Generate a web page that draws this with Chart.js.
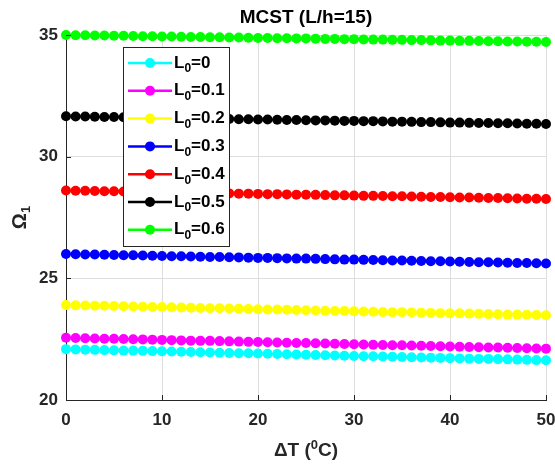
<!DOCTYPE html>
<html>
<head>
<meta charset="utf-8">
<script src="https://cdn.jsdelivr.net/npm/chart.js@4.4.0/dist/chart.umd.min.js"></script>
<style>
  html, body { margin: 0; padding: 0; background: #fff; }
  #wrap { width: 555px; height: 466px; }
</style>
</head>
<body>
<div id="wrap"><canvas id="freqChart" width="555" height="466"></canvas></div>
<script>
// temperature rise (degrees C)
const deltaT = [0, 1, 2, 3, 4, 5, 6, 7, 8, 9, 10, 11, 12, 13, 14, 15, 16, 17, 18, 19, 20,
    21, 22, 23, 24, 25, 26, 27, 28, 29, 30, 31, 32, 33, 34, 35, 36, 37, 38, 39, 40,
    41, 42, 43, 44, 45, 46, 47, 48, 49, 50];

const seriesNames = ['0', '0.1', '0.2', '0.3', '0.4', '0.5', '0.6'];

// Omega_1 for each L0
const omegaL00 = [22.09, 22.08, 22.07, 22.06, 22.05, 22.04, 22.03, 22.03, 22.02, 22.01, 22.00,
    21.99, 21.98, 21.97, 21.96, 21.95, 21.94, 21.93, 21.92, 21.92, 21.91, 21.90, 21.89, 21.88,
    21.87, 21.86, 21.85, 21.84, 21.83, 21.82, 21.81, 21.80, 21.80, 21.79, 21.78, 21.77, 21.76,
    21.75, 21.74, 21.73, 21.72, 21.71, 21.70, 21.69, 21.69, 21.68, 21.67, 21.66, 21.65, 21.64, 21.63];
const omegaL01 = [22.56, 22.55, 22.54, 22.53, 22.52, 22.52, 22.51, 22.50, 22.49, 22.48, 22.47,
    22.46, 22.45, 22.44, 22.43, 22.43, 22.42, 22.41, 22.40, 22.39, 22.38, 22.37, 22.36, 22.35,
    22.34, 22.34, 22.33, 22.32, 22.31, 22.30, 22.29, 22.28, 22.27, 22.26, 22.25, 22.25, 22.24,
    22.23, 22.22, 22.21, 22.20, 22.19, 22.18, 22.17, 22.16, 22.16, 22.15, 22.14, 22.13, 22.12, 22.11];
const omegaL02 = [23.90, 23.89, 23.88, 23.87, 23.87, 23.86, 23.85, 23.84, 23.83, 23.82, 23.82,
    23.81, 23.80, 23.79, 23.78, 23.77, 23.77, 23.76, 23.75, 23.74, 23.73, 23.72, 23.72, 23.71,
    23.70, 23.69, 23.68, 23.67, 23.66, 23.66, 23.65, 23.64, 23.63, 23.62, 23.61, 23.61, 23.60,
    23.59, 23.58, 23.57, 23.56, 23.56, 23.55, 23.54, 23.53, 23.52, 23.51, 23.51, 23.50, 23.49, 23.48];
const omegaL03 = [26.00, 25.99, 25.98, 25.98, 25.97, 25.96, 25.95, 25.95, 25.94, 25.93, 25.92,
    25.91, 25.91, 25.90, 25.89, 25.88, 25.88, 25.87, 25.86, 25.85, 25.84, 25.84, 25.83, 25.82,
    25.81, 25.81, 25.80, 25.79, 25.78, 25.77, 25.77, 25.76, 25.75, 25.74, 25.73, 25.73, 25.72,
    25.71, 25.70, 25.70, 25.69, 25.68, 25.67, 25.66, 25.66, 25.65, 25.64, 25.63, 25.63, 25.62, 25.61];
const omegaL04 = [28.61, 28.60, 28.60, 28.59, 28.58, 28.58, 28.57, 28.56, 28.55, 28.55, 28.54,
    28.53, 28.53, 28.52, 28.51, 28.51, 28.50, 28.49, 28.48, 28.48, 28.47, 28.46, 28.46, 28.45,
    28.44, 28.44, 28.43, 28.42, 28.41, 28.41, 28.40, 28.39, 28.39, 28.38, 28.37, 28.37, 28.36,
    28.35, 28.34, 28.34, 28.33, 28.32, 28.32, 28.31, 28.30, 28.30, 28.29, 28.28, 28.27, 28.27, 28.26];
const omegaL05 = [31.66, 31.65, 31.65, 31.64, 31.63, 31.63, 31.62, 31.62, 31.61, 31.60, 31.60,
    31.59, 31.58, 31.58, 31.57, 31.56, 31.56, 31.55, 31.54, 31.54, 31.53, 31.53, 31.52, 31.51,
    31.51, 31.50, 31.49, 31.49, 31.48, 31.47, 31.47, 31.46, 31.46, 31.45, 31.44, 31.44, 31.43,
    31.42, 31.42, 31.41, 31.40, 31.40, 31.39, 31.38, 31.38, 31.37, 31.37, 31.36, 31.35, 31.35, 31.34];
const omegaL06 = [35.00, 34.99, 34.99, 34.98, 34.98, 34.97, 34.97, 34.96, 34.95, 34.95, 34.94,
    34.94, 34.93, 34.92, 34.92, 34.91, 34.91, 34.90, 34.90, 34.89, 34.88, 34.88, 34.87, 34.87,
    34.86, 34.86, 34.85, 34.84, 34.84, 34.83, 34.83, 34.82, 34.81, 34.81, 34.80, 34.80, 34.79,
    34.79, 34.78, 34.77, 34.77, 34.76, 34.76, 34.75, 34.74, 34.74, 34.73, 34.73, 34.72, 34.72, 34.71];

const xTicks = [0, 10, 20, 30, 40, 50];
const yTicks = [20, 25, 30, 35];

const allSeries = [omegaL00, omegaL01, omegaL02, omegaL03, omegaL04, omegaL05, omegaL06];
const seriesColors = ['#00ffff', '#ff00ff', '#ffff00', '#0000ff', '#ff0000', '#000000', '#00ff00'];

const axisColor = '#262626';
const fontFamily = '"Liberation Sans", Arial, Helvetica, sans-serif';

// testo con pedice/apice: parts = [[text, size, dy], ...]
const drawRich = (ctx, parts, x, y, align) => {
    let total = 0;
    parts.forEach(p => {
        ctx.font = 'bold ' + p[1] + 'px ' + fontFamily;
        total += ctx.measureText(p[0]).width;
    });
    let cx = align === 'left' ? x : x - total / 2;
    ctx.textAlign = 'left';
    ctx.textBaseline = 'middle';
    parts.forEach(p => {
        ctx.font = 'bold ' + p[1] + 'px ' + fontFamily;
        ctx.fillText(p[0], cx, y + p[2]);
        cx += ctx.measureText(p[0]).width;
    });
}

// titoli, tacche interne e legenda in stile MATLAB
const matlabLook = {
    id: 'matlabLook',
    afterDatasetsDraw(chart) {
        const ctx = chart.ctx;
        const area = chart.chartArea;
        const xs = chart.scales.x;
        const ys = chart.scales.y;
        ctx.save();

        // tacche verso l'interno
        ctx.strokeStyle = axisColor;
        ctx.lineWidth = 1;
        xTicks.forEach(v => {
            const px = Math.round(xs.getPixelForValue(v)) + 0.5;
            ctx.beginPath();
            ctx.moveTo(px, area.bottom);
            ctx.lineTo(px, area.bottom - 5);
            ctx.stroke();
        });
        yTicks.forEach(v => {
            const py = Math.round(ys.getPixelForValue(v)) + 0.5;
            ctx.beginPath();
            ctx.moveTo(area.left, py);
            ctx.lineTo(area.left + 5, py);
            ctx.stroke();
        });

        // legenda
        const bx = 123, by = 47, bw = 106, bh = 199;
        ctx.fillStyle = '#ffffff';
        ctx.fillRect(bx, by, bw, bh);
        ctx.strokeStyle = axisColor;
        ctx.strokeRect(bx + 0.5, by + 0.5, bw, bh);
        chart.data.datasets.forEach((ds, i) => {
            const ly = 63 + i * 27.8;
            ctx.strokeStyle = ds.borderColor;
            ctx.lineWidth = 2.5;
            ctx.beginPath();
            ctx.moveTo(128, ly);
            ctx.lineTo(172, ly);
            ctx.stroke();
            ctx.fillStyle = ds.backgroundColor;
            ctx.beginPath();
            ctx.arc(150, ly, 5, 0, Math.PI * 2);
            ctx.fill();
            ctx.fillStyle = '#000000';
            drawRich(ctx, [['L', 17, 0], ['0', 12, 6], ['=' + seriesNames[i], 17, 0]], 174, ly, 'left');
        });

        // titoli
        const cx = (area.left + area.right) / 2;
        ctx.fillStyle = '#000000';
        drawRich(ctx, [['MCST (L/h=15)', 19, 0]], cx, 18, 'center');
        ctx.fillStyle = axisColor;
        drawRich(ctx, [['\u0394T (', 19, 0], ['0', 13, -6], ['C)', 19, 0]], cx, 451, 'center');
        ctx.translate(20, (area.top + area.bottom) / 2);
        ctx.rotate(-Math.PI / 2);
        drawRich(ctx, [['\u03a9', 20, 0], ['1', 13, 6]], 0, 0, 'center');

        ctx.restore();
    }
}

const datasets = allSeries.map((values, i) => ({
    label: 'L0=' + seriesNames[i],
    data: values.map((v, j) => ({ x: deltaT[j], y: v })),
    borderColor: seriesColors[i],
    backgroundColor: seriesColors[i],
    borderWidth: 2,
    pointRadius: 5,
    pointBorderWidth: 0,
    pointHoverRadius: 5,
    tension: 0,
    clip: false,
    order: -i,
}));

const tickFont = { family: fontFamily, size: 17, weight: 'bold' };

new Chart('freqChart', {
    type: 'line',
    data: { datasets },
    options: {
        responsive: false,
        animation: false,
        events: [],
        layout: { padding: { top: 35, right: 9, left: 0, bottom: 0 } },
        plugins: {
            legend: { display: false },
            title: { display: false },
            tooltip: { enabled: false }
        },
        scales: {
            x: {
                type: 'linear',
                min: 0,
                max: 50,
                afterBuildTicks: scale => { scale.ticks = xTicks.map(v => ({ value: v })); },
                afterFit: scale => {
                    scale.height = 66;
                    scale.paddingLeft = 0;
                    scale.paddingRight = 0;
                },
                ticks: { font: tickFont, color: axisColor, padding: 10, maxRotation: 0 },
                grid: { color: '#dedede', drawTicks: false },
                border: { color: axisColor, width: 1 }
            },
            y: {
                min: 20,
                max: 35,
                afterBuildTicks: scale => { scale.ticks = yTicks.map(v => ({ value: v })); },
                afterFit: scale => {
                    scale.width = 66;
                    scale.paddingTop = 0;
                    scale.paddingBottom = 0;
                },
                ticks: { font: tickFont, color: axisColor, padding: 8 },
                grid: { color: '#dedede', drawTicks: false },
                border: { color: axisColor, width: 1 }
            }
        }
    },
    plugins: [matlabLook]
});
</script>
</body>
</html>
